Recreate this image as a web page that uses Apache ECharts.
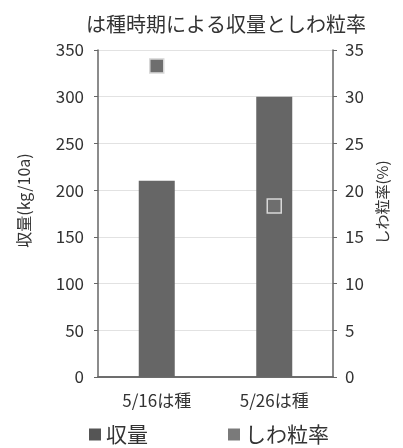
<!DOCTYPE html>
<html><head><meta charset="utf-8">
<script src="https://cdn.jsdelivr.net/npm/echarts@6/dist/echarts.min.js"></script>
<style>html,body{margin:0;padding:0;background:#fff}#c{width:403px;height:448px}</style>
</head><body><div id="c"></div>
<script>
var categories = ['5/16は種', '5/26は種'];
var yieldValues = [210, 300];
var wrinkleValues = [33.3, 18.3];
var leftTicks = [0, 50, 100, 150, 200, 250, 300, 350];
var rightTicks = [0, 5, 10, 15, 20, 25, 30, 35];

var font = '"Noto Sans CJK JP", "Noto Sans", sans-serif';
var chart = echarts.init(document.getElementById('c'));
chart.setOption({
  animation: false,
  backgroundColor: '#fff',
  textStyle: { fontFamily: font },
  title: {
    text: 'は種時期による収量としわ粒率',
    left: 81, top: 9,
    textStyle: { fontFamily: font, fontSize: 20, fontWeight: 'normal', color: '#333' }
  },
  legend: {
    bottom: -2, left: 84,
    itemWidth: 12, itemHeight: 12, itemGap: 80,
    icon: 'rect',
    textStyle: { fontFamily: font, fontSize: 21, color: '#333' },
    data: [
      { name: '収量', itemStyle: { color: '#555', borderWidth: 0 } },
      { name: 'しわ粒率', itemStyle: { color: '#7a7a7a', borderWidth: 0 } }
    ]
  },
  grid: { left: 98, right: 70, top: 50, bottom: 71 },
  xAxis: [{
    type: 'category', data: categories,
    axisLine: { lineStyle: { color: '#666', width: 1.5 } },
    axisTick: { show: false },
    axisLabel: { fontFamily: font, fontSize: 17, color: '#333', margin: 15 }
  }, {
    type: 'category', data: categories, position: 'top',
    axisLine: { show: true, lineStyle: { color: '#666', width: 1.5 } },
    axisTick: { show: false }, axisLabel: { show: false }
  }],
  yAxis: [{
    type: 'value', min: leftTicks[0], max: leftTicks[leftTicks.length - 1], interval: 50,
    name: '収量(kg/10a)', nameLocation: 'middle', nameGap: 66, nameRotate: 90,
    nameTextStyle: { fontFamily: font, fontSize: 16, color: '#333', padding: [0, 0, 0, 26] },
    axisLine: { show: true, lineStyle: { color: '#666', width: 1.5 } },
    axisTick: { show: true, length: 4, lineStyle: { color: '#666' } },
    axisLabel: { fontFamily: font, fontSize: 17, color: '#333', margin: 14 },
    splitLine: { lineStyle: { color: '#e2e2e2' } }
  }, {
    type: 'value', min: rightTicks[0], max: rightTicks[rightTicks.length - 1], interval: 5,
    name: 'しわ粒率(%)', nameLocation: 'middle', nameGap: 42, nameRotate: 90,
    nameTextStyle: { fontFamily: font, fontSize: 15, color: '#333', padding: [0, 0, 0, 22] },
    axisLine: { show: true, lineStyle: { color: '#666', width: 1.5 } },
    axisTick: { show: true, length: 4, lineStyle: { color: '#666' } },
    axisLabel: { fontFamily: font, fontSize: 17, color: '#333', margin: 12 },
    splitLine: { show: false }
  }],
  series: [{
    name: '収量', type: 'bar', data: yieldValues, barWidth: 36,
    itemStyle: { color: '#666' }
  }, {
    name: 'しわ粒率', type: 'scatter', yAxisIndex: 1, data: wrinkleValues,
    symbol: 'rect', symbolSize: 14,
    itemStyle: { color: '#6e6e6e', borderColor: '#d8d8d8', borderWidth: 1.5, opacity: 1 }
  }]
});
</script></body></html>
